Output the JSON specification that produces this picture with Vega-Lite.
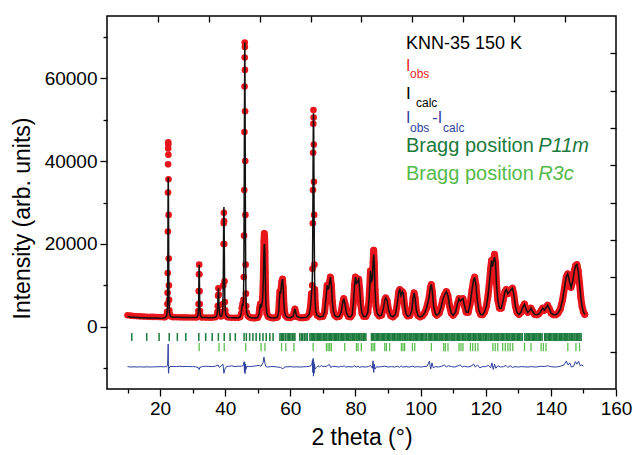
{
"$schema": "https://vega.github.io/schema/vega-lite/v6.json",
"width": 509, "height": 373,
"autosize": {"type": "none"},
"padding": {"left": 107, "top": 16, "right": 17, "bottom": 66},
"background": "white",
"config": {"view": {"stroke": "black", "strokeWidth": 1.5}, "font": "Liberation Sans",
  "axis": {"labelFont": "Liberation Sans", "titleFont": "Liberation Sans", "labelColor": "black", "titleColor": "black", "tickColor": "black", "tickWidth": 1.3, "domain": false, "grid": false, "labelFontSize": 19, "titleFontSize": 23, "titleFontWeight": "normal", "labelOverlap": false, "labelFlush": false}},
"datasets": {
"one": [{"k": 1}],
"obs": [
{"t":10,"o":2800,"c":2500},{"t":11,"o":2700,"c":2400},{"t":12,"o":2620,"c":2330},{"t":13,"o":2560,"c":2270},{"t":14,"o":2510,"c":2220},{"t":15,"o":2470,"c":2190},{"t":16,"o":2440,"c":2160},{"t":17,"o":2410,"c":2140},{"t":18,"o":2390,"c":2120},{"t":19,"o":2370,"c":2110},{"t":20,"o":2350,"c":2100},{"t":21,"o":2340,"c":2120},{"t":21.5,"o":2340,"c":2200},{"t":22.0,"o":2700,"c":2600},{"t":22.15,"o":3600,"c":3350},{"t":22.25,"o":5500,"c":4900},{"t":22.3,"o":8200,"c":7000},{"t":22.35,"o":13000,"c":10900},{"t":22.4,"o":23000,"c":18900},{"t":22.43,"o":32400,"c":26300},{"t":22.46,"o":39200,"c":31800},{"t":22.48,"o":43000,"c":34800},{"t":22.5,"o":44500,"c":36000},{"t":22.52,"o":44000,"c":35600},{"t":22.55,"o":41500,"c":33600},{"t":22.58,"o":35600,"c":29000},{"t":22.62,"o":27000,"c":22000},{"t":22.66,"o":16500,"c":13700},{"t":22.7,"o":10000,"c":8500},{"t":22.75,"o":6500,"c":5700},{"t":22.85,"o":4000,"c":3700},{"t":23.0,"o":3000,"c":2900},{"t":23.3,"o":2500,"c":2450},
{"t":24,"o":2330,"c":2330},{"t":25,"o":2300,"c":2300},{"t":26,"o":2290,"c":2290},{"t":27,"o":2280,"c":2280},{"t":28,"o":2270,"c":2270},{"t":29,"o":2260,"c":2260},{"t":30,"o":2250,"c":2250},{"t":31,"o":2250,"c":2250},{"t":31.3,"o":2300,"c":2300},{"t":31.6,"o":2700,"c":2700},{"t":31.75,"o":3800,"c":3800},{"t":31.82,"o":5500,"c":5500},{"t":31.88,"o":8600,"c":8600},{"t":31.94,"o":12700,"c":12700},{"t":32.0,"o":15000,"c":15000},{"t":32.06,"o":12700,"c":12700},{"t":32.12,"o":8600,"c":8600},{"t":32.18,"o":5500,"c":5500},{"t":32.25,"o":3800,"c":3800},{"t":32.4,"o":2700,"c":2700},{"t":32.7,"o":2300,"c":2300},
{"t":33,"o":2250,"c":2250},{"t":34,"o":2230,"c":2230},{"t":35,"o":2220,"c":2220},{"t":36,"o":2220,"c":2220},{"t":37,"o":2300,"c":2300},{"t":37.4,"o":2700,"c":2700},{"t":37.6,"o":3600,"c":3600},{"t":37.7,"o":5000,"c":5000},{"t":37.8,"o":7500,"c":7500},{"t":37.9,"o":9300,"c":9300},{"t":38.0,"o":7800,"c":7800},{"t":38.1,"o":5200,"c":5200},{"t":38.2,"o":3700,"c":3700},{"t":38.4,"o":2800,"c":2800},{"t":38.7,"o":2500,"c":2500},{"t":39.0,"o":2700,"c":2700},{"t":39.2,"o":3600,"c":3600},{"t":39.3,"o":5500,"c":5500},{"t":39.4,"o":10000,"c":10500},{"t":39.5,"o":20000,"c":22000},{"t":39.55,"o":25000,"c":27500},{"t":39.6,"o":27500,"c":28900},{"t":39.65,"o":25500,"c":27000},{"t":39.7,"o":20000,"c":21000},{"t":39.8,"o":11000,"c":11000},{"t":39.9,"o":6000,"c":6000},{"t":40.0,"o":4000,"c":4000},{"t":40.2,"o":2900,"c":2900},{"t":40.6,"o":2400,"c":2400},
{"t":41,"o":2250,"c":2250},{"t":42,"o":2200,"c":2200},{"t":43,"o":2170,"c":2170},{"t":44,"o":2170,"c":2170},{"t":44.6,"o":2400,"c":2400},{"t":44.9,"o":3200,"c":3200},{"t":45.1,"o":4500,"c":4500},{"t":45.3,"o":5500,"c":5500},{"t":45.45,"o":5000,"c":5000},{"t":45.6,"o":6500,"c":6500},{"t":45.7,"o":12000,"c":12000},{"t":45.78,"o":22000,"c":22000},{"t":45.84,"o":33000,"c":33000},{"t":45.9,"o":47000,"c":47000},{"t":45.95,"o":58000,"c":58000},{"t":45.98,"o":65000,"c":65000},{"t":46.0,"o":68600,"c":68600},{"t":46.03,"o":67500,"c":67500},{"t":46.06,"o":62000,"c":62000},{"t":46.1,"o":52000,"c":52000},{"t":46.15,"o":40000,"c":40000},{"t":46.2,"o":27000,"c":27000},{"t":46.28,"o":15000,"c":15000},{"t":46.36,"o":8000,"c":8000},{"t":46.45,"o":5000,"c":5000},{"t":46.6,"o":3500,"c":3500},{"t":46.9,"o":2700,"c":2700},{"t":47.3,"o":2400,"c":2400},
{"t":48,"o":2200,"c":2200},{"t":49,"o":2150,"c":2150},{"t":50,"o":2250,"c":2250},{"t":50.4,"o":3000,"c":3000},{"t":50.6,"o":4500,"c":4500},{"t":50.8,"o":5500,"c":5500},{"t":51.0,"o":4800,"c":4800},{"t":51.2,"o":5000,"c":5000},{"t":51.5,"o":7000,"c":7000},{"t":51.7,"o":12000,"c":11000},{"t":51.8,"o":16000,"c":14500},{"t":51.9,"o":20500,"c":18500},{"t":52.0,"o":22500,"c":20000},{"t":52.1,"o":21500,"c":19500},{"t":52.2,"o":18000,"c":16500},{"t":52.3,"o":13000,"c":12500},{"t":52.4,"o":8500,"c":8500},{"t":52.55,"o":5000,"c":5000},{"t":52.8,"o":3200,"c":3200},{"t":53.2,"o":2500,"c":2500},
{"t":54,"o":2200,"c":2200},{"t":55,"o":2150,"c":2150},{"t":56,"o":2300,"c":2300},{"t":56.4,"o":3500,"c":3500},{"t":56.6,"o":6000,"c":6000},{"t":56.8,"o":8500,"c":8500},{"t":57.0,"o":8000,"c":8000},{"t":57.2,"o":9500,"c":9500},{"t":57.4,"o":11000,"c":11000},{"t":57.6,"o":11500,"c":11500},{"t":57.8,"o":9500,"c":9500},{"t":58.0,"o":6000,"c":6000},{"t":58.2,"o":3800,"c":3800},{"t":58.5,"o":2700,"c":2700},{"t":59,"o":2300,"c":2300},{"t":60,"o":2200,"c":2200},{"t":60.8,"o":2500,"c":2500},{"t":61.1,"o":3300,"c":3300},{"t":61.4,"o":4300,"c":4300},{"t":61.7,"o":3300,"c":3300},{"t":62.0,"o":2500,"c":2500},{"t":63,"o":2200,"c":2200},{"t":64,"o":2200,"c":2200},{"t":65,"o":2300,"c":2300},{"t":65.8,"o":3000,"c":3000},{"t":66.2,"o":5000,"c":5000},{"t":66.5,"o":8000,"c":8000},{"t":66.7,"o":10000,"c":10000},{"t":66.8,"o":14000,"c":14000},{"t":66.9,"o":25000,"c":25000},{"t":66.95,"o":33000,"c":33000},{"t":67.0,"o":42000,"c":42000},{"t":67.05,"o":49000,"c":48500},{"t":67.1,"o":52300,"c":51500},{"t":67.15,"o":50500,"c":50000},{"t":67.2,"o":44000,"c":44000},{"t":67.25,"o":35000,"c":35000},{"t":67.3,"o":27000,"c":27000},{"t":67.4,"o":15000,"c":15000},{"t":67.5,"o":9000,"c":9000},{"t":67.65,"o":5500,"c":5500},{"t":67.85,"o":3600,"c":3600},{"t":68.2,"o":2800,"c":2800},
{"t":69,"o":2400,"c":2400},{"t":70,"o":2500,"c":2500},{"t":70.5,"o":3500,"c":3500},{"t":70.9,"o":6500,"c":6500},{"t":71.3,"o":10000,"c":10000},{"t":71.7,"o":9000,"c":9000},{"t":72.0,"o":10500,"c":10500},{"t":72.3,"o":12000,"c":12000},{"t":72.6,"o":10000,"c":10000},{"t":72.9,"o":6000,"c":6000},{"t":73.2,"o":3800,"c":3800},{"t":73.6,"o":2800,"c":2800},{"t":74.2,"o":2400,"c":2400},{"t":75,"o":2500,"c":2500},{"t":75.6,"o":3500,"c":3500},{"t":76.0,"o":5500,"c":5500},{"t":76.4,"o":6800,"c":6800},{"t":76.8,"o":5500,"c":5500},{"t":77.2,"o":3500,"c":3500},{"t":77.8,"o":2500,"c":2500},{"t":78.5,"o":2400,"c":2400},{"t":79.0,"o":3000,"c":3000},{"t":79.4,"o":6000,"c":6000},{"t":79.7,"o":10000,"c":10000},{"t":80.0,"o":12000,"c":12000},{"t":80.3,"o":10500,"c":10500},{"t":80.6,"o":10800,"c":10800},{"t":81.0,"o":11500,"c":11500},{"t":81.3,"o":9000,"c":9000},{"t":81.6,"o":5500,"c":5500},{"t":82.0,"o":3300,"c":3300},{"t":82.5,"o":2500,"c":2500},{"t":83.2,"o":2500,"c":2500},{"t":83.8,"o":3500,"c":3500},{"t":84.2,"o":7000,"c":7000},{"t":84.6,"o":13500,"c":13500},{"t":84.9,"o":11000,"c":11000},{"t":85.2,"o":11500,"c":11500},{"t":85.4,"o":15500,"c":15500},{"t":85.6,"o":18500,"c":17500},{"t":85.8,"o":15000,"c":15000},{"t":86.0,"o":9000,"c":9000},{"t":86.3,"o":5000,"c":5000},{"t":86.7,"o":3200,"c":3200},{"t":87.3,"o":2600,"c":2600},{"t":88.0,"o":2800,"c":2800},{"t":88.6,"o":4500,"c":4500},{"t":89.0,"o":6500,"c":6500},{"t":89.3,"o":7000,"c":7000},{"t":89.7,"o":6300,"c":6300},{"t":90.2,"o":4000,"c":4000},{"t":90.8,"o":2700,"c":2700},{"t":91.5,"o":2400,"c":2400},{"t":92.3,"o":3000,"c":3000},{"t":92.9,"o":6000,"c":6000},{"t":93.3,"o":8500,"c":8500},{"t":93.6,"o":9000,"c":9000},{"t":94.0,"o":7500,"c":7500},{"t":94.4,"o":8500,"c":8500},{"t":94.7,"o":8000,"c":8000},{"t":95.1,"o":5000,"c":5000},{"t":95.5,"o":3200,"c":3200},{"t":96.0,"o":2600,"c":2600},{"t":96.7,"o":2700,"c":2700},{"t":97.3,"o":4000,"c":4000},{"t":97.7,"o":7000,"c":7000},{"t":98.0,"o":8200,"c":8200},{"t":98.3,"o":7000,"c":7000},{"t":98.7,"o":4000,"c":4000},{"t":99.2,"o":2700,"c":2700},{"t":99.8,"o":2400,"c":2400},{"t":100.5,"o":2600,"c":2600},{"t":101.2,"o":3300,"c":3300},{"t":101.8,"o":4500,"c":4500},{"t":102.3,"o":6000,"c":6000},{"t":102.7,"o":7500,"c":7500},{"t":103.0,"o":9500,"c":9500},{"t":103.3,"o":10200,"c":10200},{"t":103.6,"o":8500,"c":8500},{"t":104.0,"o":5000,"c":5000},{"t":104.5,"o":3200,"c":3200},{"t":105.0,"o":2800,"c":2800},{"t":105.7,"o":3300,"c":3300},{"t":106.3,"o":4800,"c":4800},{"t":106.9,"o":6800,"c":6800},{"t":107.4,"o":7800,"c":7800},{"t":107.9,"o":8500,"c":8500},{"t":108.4,"o":7500,"c":7500},{"t":108.9,"o":5000,"c":5000},{"t":109.4,"o":3300,"c":3300},{"t":110.0,"o":2800,"c":2800},{"t":110.7,"o":3500,"c":3500},{"t":111.3,"o":5500,"c":5500},{"t":111.8,"o":6800,"c":6800},{"t":112.2,"o":6200,"c":6200},{"t":112.6,"o":6500,"c":6500},{"t":113.0,"o":6800,"c":6800},{"t":113.5,"o":5000,"c":5000},{"t":114.0,"o":3500,"c":3500},{"t":114.6,"o":3500,"c":3500},{"t":115.2,"o":5500,"c":5500},{"t":115.8,"o":9000,"c":9000},{"t":116.2,"o":11000,"c":11000},{"t":116.6,"o":12000,"c":12000},{"t":117.0,"o":10000,"c":10000},{"t":117.4,"o":6500,"c":6500},{"t":117.9,"o":4000,"c":4000},{"t":118.4,"o":3000,"c":3000},{"t":119.0,"o":2900,"c":2900},{"t":119.6,"o":3500,"c":3500},{"t":120.2,"o":5000,"c":5000},{"t":120.7,"o":7500,"c":7500},{"t":121.1,"o":10500,"c":10500},{"t":121.5,"o":14000,"c":14000},{"t":121.8,"o":16000,"c":16000},{"t":122.1,"o":14500,"c":14500},{"t":122.4,"o":16000,"c":16000},{"t":122.7,"o":17500,"c":16800},{"t":123.0,"o":15500,"c":15500},{"t":123.3,"o":10500,"c":10500},{"t":123.7,"o":6500,"c":6500},{"t":124.2,"o":4500,"c":4500},{"t":124.8,"o":4500,"c":4500},{"t":125.4,"o":6500,"c":6500},{"t":125.9,"o":8500,"c":8500},{"t":126.3,"o":9000,"c":9000},{"t":126.8,"o":8000,"c":8000},{"t":127.3,"o":8500,"c":8500},{"t":127.8,"o":9000,"c":9000},{"t":128.2,"o":9300,"c":9300},{"t":128.6,"o":8000,"c":8000},{"t":129.1,"o":5000,"c":5000},{"t":129.6,"o":3500,"c":3500},{"t":130.2,"o":3000,"c":3000},{"t":130.8,"o":3500,"c":3500},{"t":131.4,"o":4800,"c":4800},{"t":131.9,"o":5500,"c":5500},{"t":132.4,"o":4200,"c":4200},{"t":132.9,"o":3500,"c":3500},{"t":133.4,"o":3800,"c":3800},{"t":133.9,"o":4500,"c":4500},{"t":134.4,"o":3700,"c":3700},{"t":135.0,"o":3000,"c":3000},{"t":135.7,"o":2900,"c":2900},{"t":136.4,"o":3200,"c":3200},{"t":137.0,"o":3900,"c":3900},{"t":137.5,"o":4500,"c":4500},{"t":138.0,"o":4000,"c":4000},{"t":138.5,"o":4600,"c":4600},{"t":139.0,"o":5200,"c":5200},{"t":139.5,"o":4400,"c":4400},{"t":140.1,"o":3300,"c":3300},{"t":140.8,"o":2900,"c":2900},{"t":141.5,"o":2900,"c":2900},{"t":142.2,"o":3300,"c":3300},{"t":142.9,"o":4300,"c":4300},{"t":143.6,"o":6500,"c":6500},{"t":144.2,"o":9500,"c":9500},{"t":144.7,"o":12000,"c":12000},{"t":145.2,"o":12800,"c":12800},{"t":145.7,"o":11000,"c":11000},{"t":146.2,"o":9500,"c":9500},{"t":146.7,"o":11000,"c":11000},{"t":147.2,"o":13500,"c":13500},{"t":147.6,"o":14800,"c":14800},{"t":148.0,"o":15000,"c":15000},{"t":148.4,"o":13500,"c":13500},{"t":148.8,"o":10500,"c":10500},{"t":149.2,"o":7000,"c":7000},{"t":149.6,"o":4800,"c":4800},{"t":150.0,"o":3600,"c":3600},{"t":150.4,"o":3000,"c":3000}
],
"diff": [
{"t":10,"d":-9600},{"t":11,"d":-9700},{"t":12,"d":-9650},{"t":13,"d":-9700},{"t":14,"d":-9650},{"t":15,"d":-9700},{"t":16,"d":-9650},{"t":17,"d":-9700},{"t":18,"d":-9650},{"t":19,"d":-9650},{"t":20,"d":-9600},{"t":21,"d":-9650},{"t":22,"d":-9600},{"t":22.3,"d":-9400},{"t":22.4,"d":-7000},{"t":22.48,"d":-4200},{"t":22.52,"d":-6500},{"t":22.56,"d":-10800},{"t":22.62,"d":-11200},{"t":22.7,"d":-10100},{"t":23,"d":-9600},{"t":24,"d":-9550},{"t":25,"d":-9600},{"t":26,"d":-9500},{"t":27,"d":-9600},{"t":28,"d":-9550},{"t":29,"d":-9600},{"t":30,"d":-9600},{"t":31,"d":-9650},{"t":31.8,"d":-9900},{"t":32.0,"d":-10300},{"t":32.2,"d":-9800},{"t":33,"d":-9600},{"t":34,"d":-9500},{"t":35,"d":-9550},{"t":36,"d":-9600},{"t":37,"d":-9500},{"t":37.8,"d":-9200},{"t":38.2,"d":-9800},{"t":38.8,"d":-9400},{"t":39.3,"d":-9000},{"t":39.6,"d":-11200},{"t":39.9,"d":-10200},{"t":40.5,"d":-9500},{"t":41,"d":-9550},{"t":42,"d":-9400},{"t":43,"d":-9600},{"t":44,"d":-9500},{"t":45,"d":-9500},{"t":45.6,"d":-9300},{"t":45.8,"d":-8400},{"t":45.9,"d":-10900},{"t":46.0,"d":-8600},{"t":46.1,"d":-11300},{"t":46.2,"d":-9000},{"t":46.35,"d":-10300},{"t":46.6,"d":-9500},{"t":47.5,"d":-9600},{"t":48.5,"d":-9500},{"t":49.5,"d":-9400},{"t":50.5,"d":-9300},{"t":51,"d":-9500},{"t":51.6,"d":-8700},{"t":51.9,"d":-7300},{"t":52.2,"d":-8800},{"t":52.5,"d":-9600},{"t":53,"d":-9700},{"t":54,"d":-9600},{"t":55,"d":-9600},{"t":56,"d":-9700},{"t":57,"d":-9800},{"t":57.7,"d":-10100},{"t":58.3,"d":-9700},{"t":59,"d":-9650},{"t":60,"d":-9600},{"t":61,"d":-9700},{"t":62,"d":-9650},{"t":63,"d":-9700},{"t":64,"d":-9650},{"t":65,"d":-9600},{"t":66,"d":-9500},{"t":66.6,"d":-9200},{"t":66.8,"d":-8000},{"t":66.9,"d":-11000},{"t":67.0,"d":-7600},{"t":67.1,"d":-11900},{"t":67.2,"d":-8400},{"t":67.3,"d":-11200},{"t":67.4,"d":-9000},{"t":67.6,"d":-10200},{"t":68,"d":-9800},{"t":68.5,"d":-9400},{"t":69,"d":-9700},{"t":69.5,"d":-9300},{"t":70,"d":-9600},{"t":70.5,"d":-9500},{"t":71,"d":-9600},{"t":71.5,"d":-9300},{"t":72,"d":-9100},{"t":72.4,"d":-9800},{"t":73,"d":-9500},{"t":74,"d":-9600},{"t":75,"d":-9700},{"t":75.5,"d":-9500},{"t":76,"d":-9600},{"t":76.5,"d":-9400},{"t":77,"d":-9700},{"t":78,"d":-9600},{"t":79,"d":-9700},{"t":79.7,"d":-9400},{"t":80.2,"d":-9700},{"t":80.8,"d":-9500},{"t":81.3,"d":-9800},{"t":82,"d":-9600},{"t":83,"d":-9700},{"t":84,"d":-9600},{"t":84.6,"d":-9300},{"t":85.2,"d":-10000},{"t":85.4,"d":-8200},{"t":85.6,"d":-11000},{"t":85.8,"d":-9000},{"t":86,"d":-10200},{"t":86.5,"d":-9600},{"t":87,"d":-9700},{"t":88,"d":-9600},{"t":89,"d":-9500},{"t":90,"d":-9700},{"t":91,"d":-9600},{"t":92,"d":-9700},{"t":93,"d":-9500},{"t":93.5,"d":-9800},{"t":94,"d":-9400},{"t":94.5,"d":-9700},{"t":95.5,"d":-9600},{"t":96.5,"d":-9700},{"t":97.5,"d":-9500},{"t":98.2,"d":-9700},{"t":99,"d":-9600},{"t":100,"d":-9700},{"t":101,"d":-9600},{"t":102,"d":-9500},{"t":102.7,"d":-8300},{"t":103.1,"d":-10200},{"t":103.5,"d":-8700},{"t":103.9,"d":-9900},{"t":104.5,"d":-9600},{"t":105.5,"d":-9700},{"t":106.5,"d":-9500},{"t":107.3,"d":-9200},{"t":107.9,"d":-9700},{"t":108.5,"d":-9400},{"t":109.5,"d":-9600},{"t":110.5,"d":-9700},{"t":111.5,"d":-9400},{"t":112.2,"d":-9200},{"t":112.8,"d":-9700},{"t":113.5,"d":-9500},{"t":114.5,"d":-9700},{"t":115.5,"d":-9500},{"t":116.3,"d":-9000},{"t":116.8,"d":-9700},{"t":117.5,"d":-9200},{"t":118.2,"d":-9900},{"t":119,"d":-9600},{"t":120,"d":-9600},{"t":120.8,"d":-9300},{"t":121.5,"d":-9900},{"t":121.9,"d":-8700},{"t":122.3,"d":-10300},{"t":122.7,"d":-9000},{"t":123.1,"d":-10000},{"t":123.7,"d":-9400},{"t":124.5,"d":-9700},{"t":125.5,"d":-9600},{"t":126.2,"d":-9300},{"t":126.8,"d":-9800},{"t":127.5,"d":-9400},{"t":128.2,"d":-9800},{"t":129,"d":-9600},{"t":130,"d":-9700},{"t":131,"d":-9600},{"t":132,"d":-9650},{"t":133,"d":-9700},{"t":134,"d":-9600},{"t":135,"d":-9700},{"t":136,"d":-9650},{"t":137,"d":-9500},{"t":138,"d":-9600},{"t":139,"d":-9400},{"t":140,"d":-9600},{"t":141,"d":-9700},{"t":142,"d":-9650},{"t":143,"d":-9500},{"t":144,"d":-9200},{"t":144.7,"d":-8300},{"t":145.3,"d":-9200},{"t":145.8,"d":-8700},{"t":146.3,"d":-9700},{"t":147,"d":-9500},{"t":147.5,"d":-8400},{"t":148.0,"d":-9000},{"t":148.5,"d":-8300},{"t":149,"d":-9400},{"t":149.5,"d":-9200},{"t":150,"d":-9500}
],
"p11m": [
{"t":11.3},{"t":15.9},{"t":19.7},{"t":22.8},{"t":25.3},{"t":27.9},{"t":31.9},{"t":34.0},{"t":36.0},{"t":37.9},{"t":39.7},{"t":41.5},{"t":43.1},
{"t":45.8},{"t":46.5},{"t":47.5},{"t":48.5},{"t":49.5},{"t":50.6},{"t":51.6},{"t":52.6},{"t":53.7},{"t":54.7},
{"t":56.8},{"t":57.2},{"t":57.6},{"t":58.0},{"t":58.5},{"t":59.0},{"t":59.4},{"t":59.8},{"t":60.2},{"t":60.7},{"t":61.1},{"t":61.4},
{"t":62.9},{"t":63.4},{"t":63.8},{"t":64.3},{"t":64.8},{"t":65.2},
{"t":66.0},{"t":66.4},{"t":66.8},{"t":67.1},{"t":67.5},{"t":67.9},{"t":68.3},{"t":68.6},{"t":69.0},{"t":69.3},{"t":69.7},{"t":70.1},{"t":70.5},{"t":70.9},{"t":71.2},{"t":71.6},{"t":72.0},{"t":72.3},{"t":72.7},{"t":73.1},{"t":73.5},{"t":73.8},{"t":74.2},{"t":74.6},{"t":74.9},{"t":75.3},{"t":75.7},{"t":76.0},{"t":76.4},{"t":76.8},{"t":77.2},{"t":77.5},{"t":77.9},{"t":78.3},{"t":78.6},{"t":79.0},{"t":79.4},{"t":79.8},{"t":80.2},{"t":80.5},{"t":80.9},{"t":81.3},{"t":81.7},{"t":82.0},{"t":82.4},{"t":82.8},{"t":83.2},
{"t":84.9},{"t":85.3},{"t":85.6},{"t":86.0},{"t":86.4},{"t":86.8},{"t":87.1},{"t":87.5},{"t":87.9},{"t":88.3},{"t":88.6},{"t":89.0},{"t":89.4},{"t":89.8},{"t":90.1},{"t":90.5},{"t":90.9},{"t":91.3},{"t":91.7},{"t":92.0},{"t":92.4},{"t":92.8},{"t":93.1},{"t":93.5},{"t":93.9},{"t":94.3},{"t":94.6},{"t":95.0},{"t":95.4},{"t":95.8},{"t":96.1},{"t":96.5},{"t":96.9},{"t":97.3},{"t":97.7},{"t":98.0},{"t":98.4},{"t":98.8},{"t":99.1},{"t":99.5},{"t":99.9},{"t":100.3},{"t":100.6},{"t":101.0},{"t":101.4},{"t":101.8},
{"t":102.3},{"t":102.7},{"t":103.0},{"t":103.4},{"t":103.8},{"t":104.2},{"t":104.5},{"t":104.9},{"t":105.3},{"t":105.7},{"t":106.0},{"t":106.4},{"t":106.8},{"t":107.2},{"t":107.6},{"t":107.9},{"t":108.3},{"t":108.7},{"t":109.0},{"t":109.4},{"t":109.8},{"t":110.2},{"t":110.5},{"t":110.9},{"t":111.3},{"t":111.7},{"t":112.0},{"t":112.4},{"t":112.8},{"t":113.2},{"t":113.6},{"t":113.9},{"t":114.3},{"t":114.7},{"t":115.0},{"t":115.4},{"t":115.8},{"t":116.2},{"t":116.5},{"t":116.9},{"t":117.3},{"t":117.7},{"t":118.1},{"t":118.4},{"t":118.8},{"t":119.2},{"t":119.5},{"t":119.9},{"t":120.3},{"t":120.7},{"t":121.0},{"t":121.4},{"t":121.8},{"t":122.2},{"t":122.6},{"t":122.9},{"t":123.3},{"t":123.7},{"t":124.0},{"t":124.4},{"t":124.8},{"t":125.2},{"t":125.5},{"t":125.9},{"t":126.3},{"t":126.7},{"t":127.1},{"t":127.4},{"t":127.8},{"t":128.2},{"t":128.5},{"t":128.9},{"t":129.3},{"t":129.7},{"t":130.0},{"t":130.4},{"t":130.8},{"t":131.2},
{"t":132.0},{"t":132.4},{"t":132.7},{"t":133.1},{"t":133.5},{"t":133.9},{"t":134.3},{"t":134.6},{"t":135.0},{"t":135.4},{"t":135.7},{"t":136.1},{"t":136.5},{"t":136.9},{"t":137.3},
{"t":138.1},{"t":138.4},{"t":138.8},{"t":139.2},{"t":139.6},{"t":139.9},{"t":140.3},{"t":140.7},{"t":141.1},{"t":141.5},{"t":141.8},{"t":142.2},{"t":142.6},{"t":142.9},{"t":143.3},{"t":143.7},{"t":144.1},{"t":144.4},{"t":144.8},{"t":145.2},{"t":145.6},{"t":145.9},{"t":146.3},{"t":146.7},{"t":147.1},{"t":147.4},{"t":147.8},{"t":148.2},{"t":148.6},{"t":148.9},{"t":149.3}
],
"r3c": [
{"t":32.0},{"t":38.1},{"t":39.7},{"t":46.3},{"t":51.0},{"t":52.2},{"t":57.3},{"t":58.6},{"t":61.1},{"t":67.0},{"t":71.1},{"t":71.6},{"t":72.1},{"t":72.6},{"t":76.7},{"t":80.3},{"t":80.8},{"t":81.8},{"t":84.9},{"t":85.4},{"t":85.9},{"t":89.0},{"t":89.5},{"t":90.5},{"t":94.1},{"t":94.6},{"t":95.1},{"t":97.5},{"t":98.2},{"t":103.3},{"t":107.1},{"t":107.6},{"t":108.4},{"t":111.8},{"t":112.4},{"t":113.0},{"t":115.3},{"t":116.0},{"t":116.8},{"t":117.6},{"t":122.2},{"t":122.9},{"t":123.7},{"t":125.2},{"t":126.0},{"t":126.8},{"t":127.5},{"t":128.3},{"t":131.9},{"t":133.9},{"t":137.0},{"t":137.7},{"t":138.5},{"t":145.2},{"t":147.7},{"t":148.8}
]
},
"layer": [
{"data": {"name": "p11m"}, "mark": {"type": "rule", "color": "#1b7a3c", "strokeWidth": 1.5},
 "encoding": {"x": {"field": "t", "type": "quantitative", "axis": null, "scale": {"domain": [3.7, 160], "nice": false, "zero": false}},
  "y": {"datum": -1500, "type": "quantitative", "axis": null, "scale": {"domain": [-15000, 75000], "nice": false, "zero": false}}, "y2": {"datum": -3400}}},
{"data": {"name": "r3c"}, "mark": {"type": "rule", "color": "#5cbf50", "strokeWidth": 1.3},
 "encoding": {"x": {"field": "t", "type": "quantitative", "axis": null},
  "y": {"datum": -3900, "type": "quantitative", "axis": null}, "y2": {"datum": -5900}}},
{"data": {"name": "diff"}, "mark": {"type": "line", "color": "#2d3f9e", "strokeWidth": 1},
 "encoding": {"x": {"field": "t", "type": "quantitative", "axis": {"orient": "top", "values": [19.33, 34.96, 50.59, 66.22, 81.85, 97.48, 113.11, 128.74, 144.37], "labels": false, "tickSize": 6, "offset": -6, "title": null}},
  "y": {"field": "d", "type": "quantitative", "axis": {"orient": "right", "values": [-6000, 3000, 12000, 21000, 30000, 39000, 48000, 57000, 66000], "labels": false, "tickSize": 6, "offset": -6, "title": null}}}},
{"data": {"name": "obs"}, "transform": [{"filter": "datum.t >= 47.5 && datum.t <= 66.6"}], "mark": {"type": "line", "color": "#e8161c", "strokeWidth": 7, "strokeCap": "round", "strokeJoin": "round"},
 "encoding": {"x": {"field": "t", "type": "quantitative", "axis": null}, "y": {"field": "o", "type": "quantitative", "axis": null}}},
{"data": {"name": "obs"}, "transform": [{"filter": "datum.t >= 67.5"}], "mark": {"type": "line", "color": "#e8161c", "strokeWidth": 7, "strokeCap": "round", "strokeJoin": "round"},
 "encoding": {"x": {"field": "t", "type": "quantitative", "axis": null}, "y": {"field": "o", "type": "quantitative", "axis": null}}},
{"data": {"name": "obs"}, "mark": {"type": "point", "filled": true, "color": "#e8161c", "size": 44, "opacity": 1},
 "encoding": {"x": {"field": "t", "type": "quantitative", "title": "2 theta (°)",
   "axis": {"orient": "bottom", "values": [10,20,30,40,50,60,70,80,90,100,110,120,130,140,150,160], "labelExpr": "datum.value % 20 === 0 ? datum.label : ''", "tickSize": {"condition": {"test": "datum.value % 20 === 0", "value": 7}, "value": 4}, "labelPadding": 3, "titlePadding": 8}},
  "y": {"field": "o", "type": "quantitative", "title": "Intensity (arb. units)",
   "axis": {"orient": "left", "format": "d", "values": [-10000,0,10000,20000,30000,40000,50000,60000,70000], "labelExpr": "datum.value % 20000 === 0 ? datum.label : ''", "tickSize": {"condition": {"test": "datum.value % 20000 === 0", "value": 7}, "value": 4}, "labelPadding": 3, "titlePadding": 10, "titleY": 202}}}},
{"data": {"name": "obs"}, "mark": {"type": "line", "color": "#111111", "strokeWidth": 1.5},
 "encoding": {"x": {"field": "t", "type": "quantitative", "axis": null}, "y": {"field": "c", "type": "quantitative", "axis": null}}},
{"data": {"name": "one"}, "mark": {"type": "text", "text": "KNN-35 150 K", "align": "left", "baseline": "alphabetic", "fontSize": 18, "color": "black"},
 "encoding": {"x": {"datum": 95.51, "type": "quantitative", "axis": null}, "y": {"datum": 66965, "type": "quantitative", "axis": null}}},
{"data": {"name": "one"}, "mark": {"type": "text", "text": "I", "align": "left", "baseline": "alphabetic", "fontSize": 16, "color": "#e8251f"},
 "encoding": {"x": {"datum": 95.51, "type": "quantitative", "axis": null}, "y": {"datum": 61801, "type": "quantitative", "axis": null}}},
{"data": {"name": "one"}, "mark": {"type": "text", "text": "obs", "align": "left", "baseline": "alphabetic", "fontSize": 12, "color": "#e8251f"},
 "encoding": {"x": {"datum": 96.74, "type": "quantitative", "axis": null}, "y": {"datum": 59967, "type": "quantitative", "axis": null}}},
{"data": {"name": "one"}, "mark": {"type": "text", "text": "I", "align": "left", "baseline": "alphabetic", "fontSize": 17, "color": "black"},
 "encoding": {"x": {"datum": 95.51, "type": "quantitative", "axis": null}, "y": {"datum": 54901, "type": "quantitative", "axis": null}}},
{"data": {"name": "one"}, "mark": {"type": "text", "text": "calc", "align": "left", "baseline": "alphabetic", "fontSize": 12, "color": "black"},
 "encoding": {"x": {"datum": 98.59, "type": "quantitative", "axis": null}, "y": {"datum": 53115, "type": "quantitative", "axis": null}}},
{"data": {"name": "one"}, "mark": {"type": "text", "text": "I", "align": "left", "baseline": "alphabetic", "fontSize": 16, "color": "#2d3f9e"},
 "encoding": {"x": {"datum": 95.51, "type": "quantitative", "axis": null}, "y": {"datum": 49110, "type": "quantitative", "axis": null}}},
{"data": {"name": "one"}, "mark": {"type": "text", "text": "obs", "align": "left", "baseline": "alphabetic", "fontSize": 12, "color": "#2d3f9e"},
 "encoding": {"x": {"datum": 96.74, "type": "quantitative", "axis": null}, "y": {"datum": 47083, "type": "quantitative", "axis": null}}},
{"data": {"name": "one"}, "mark": {"type": "text", "text": "-I", "align": "left", "baseline": "alphabetic", "fontSize": 16, "color": "#2d3f9e"},
 "encoding": {"x": {"datum": 103.6, "type": "quantitative", "axis": null}, "y": {"datum": 49110, "type": "quantitative", "axis": null}}},
{"data": {"name": "one"}, "mark": {"type": "text", "text": "calc", "align": "left", "baseline": "alphabetic", "fontSize": 12, "color": "#2d3f9e"},
 "encoding": {"x": {"datum": 106.9, "type": "quantitative", "axis": null}, "y": {"datum": 47083, "type": "quantitative", "axis": null}}},
{"data": {"name": "one"}, "mark": {"type": "text", "text": "Bragg position", "align": "left", "baseline": "alphabetic", "fontSize": 20, "color": "#1b7a3c"},
 "encoding": {"x": {"datum": 95.51, "type": "quantitative", "axis": null}, "y": {"datum": 42257, "type": "quantitative", "axis": null}}},
{"data": {"name": "one"}, "mark": {"type": "text", "text": "P11m", "align": "left", "baseline": "alphabetic", "fontSize": 20, "fontStyle": "italic", "color": "#1b7a3c"},
 "encoding": {"x": {"datum": 136.1, "type": "quantitative", "axis": null}, "y": {"datum": 42257, "type": "quantitative", "axis": null}}},
{"data": {"name": "one"}, "mark": {"type": "text", "text": "Bragg position", "align": "left", "baseline": "alphabetic", "fontSize": 20, "color": "#55b94a"},
 "encoding": {"x": {"datum": 95.51, "type": "quantitative", "axis": null}, "y": {"datum": 35428, "type": "quantitative", "axis": null}}},
{"data": {"name": "one"}, "mark": {"type": "text", "text": "R3c", "align": "left", "baseline": "alphabetic", "fontSize": 20, "fontStyle": "italic", "color": "#55b94a"},
 "encoding": {"x": {"datum": 136.1, "type": "quantitative", "axis": null}, "y": {"datum": 35428, "type": "quantitative", "axis": null}}}
],
"resolve": {"axis": {"x": "independent", "y": "independent"}}
}
